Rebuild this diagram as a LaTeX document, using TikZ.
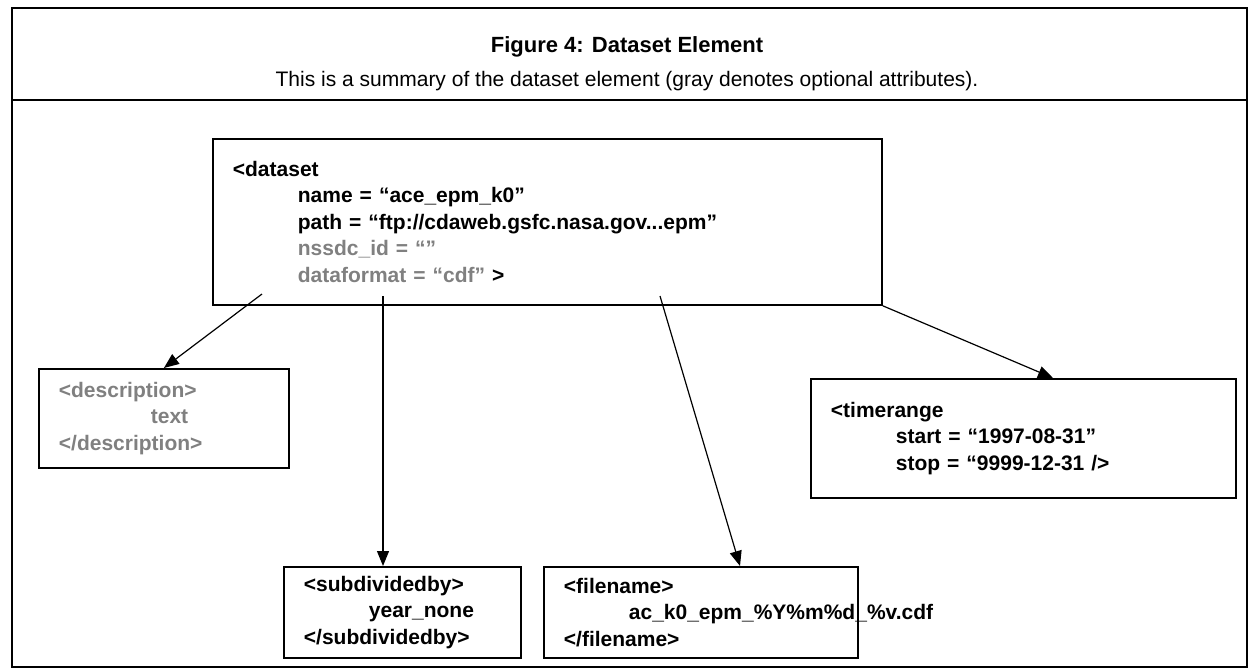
\documentclass[tikz,border=0pt]{standalone}
\usepackage{fontspec}
\setmainfont{Liberation Sans}
\usepackage{xcolor}
\usepackage{tikz}
\usetikzlibrary{calc,arrows.meta,positioning}
\definecolor{optgray}{HTML}{808080}
\newcommand\elemfont{\fontsize{21pt}{26.5pt}\selectfont\bfseries}
\newcommand\tb{\hspace*{65pt}}
\tikzset{
  frame/.style={draw, line width=2.4pt},
  elembox/.style={draw, line width=1.8pt, anchor=north west, align=left, inner xsep=20pt, inner ysep=0pt, font=\elemfont},
  link/.style={line width=1.2pt, -{Triangle[length=15pt,width=12pt]}},
  opt/.style={text=optgray}
}

\begin{document}
\begin{tikzpicture}[x=1pt, y=-1pt]
    \useasboundingbox (0,0) rectangle (1253,670);
    % outer frame and heading
    \draw[frame] (12,8) rectangle (1247,667);
    \draw[frame] (12,100) -- (1247,100);
    \node (title) at (627,47) {\fontsize{22pt}{26pt}\selectfont\bfseries Figure 4: Dataset Element};
    \node (subtitle) at (627,81) {\fontsize{21pt}{26pt}\selectfont This is a summary of the dataset element (gray denotes optional attributes).};
    % elements
    \node[elembox, text width=629pt, minimum height=166pt] (dataset) at (212,138) {%
        {<}dataset\\
        \tb name = “ace\_epm\_k0”\\
        \tb path = “ftp://cdaweb.gsfc.nasa.gov...epm”\\
        \tb\textcolor{optgray}{nssdc\_id = “”}\\
        \tb\textcolor{optgray}{dataformat = “cdf”} {>}};
    \node[elembox, opt, text width=210pt, minimum height=99pt] (description) at (38,368) {%
        {<}description{>}\\
        \hspace*{92pt}text\\
        {<}/description{>}};
    \node[elembox, text width=385pt, minimum height=119pt] (timerange) at (810,378) {%
        {<}timerange\\
        \tb start = “1997-08-31”\\
        \tb stop = “9999-12-31 /{>}};
    \node[elembox, text width=197pt, minimum height=91pt] (subdivided) at (283,566) {%
        {<}subdividedby{>}\\
        \tb year\_none\\
        {<}/subdividedby{>}};
    \node[elembox, text width=274pt, minimum height=91pt] (filename) at (543,566) {%
        {<}filename{>}\\
        \tb ac\_k0\_epm\_\%Y\%m\%d\_\%v.cdf\\
        {<}/filename{>}};
    % links
    \coordinate (fromdesc) at (262,294);
    \coordinate (fromsub) at (383,296);
    \coordinate (fromfile) at (660,296);
    \coordinate (tofile) at ($(filename.north west)+(197,0)$);
    \coordinate (totime) at ($(timerange.north west)+(243,0)$);
    \draw[link] (fromdesc) -- (description.north);
    \draw[link] (fromsub) -- (fromsub |- subdivided.north);
    \draw[link] (fromfile) -- (tofile);
    \draw[link] (dataset.south east) -- (totime);
\end{tikzpicture}
\end{document}
